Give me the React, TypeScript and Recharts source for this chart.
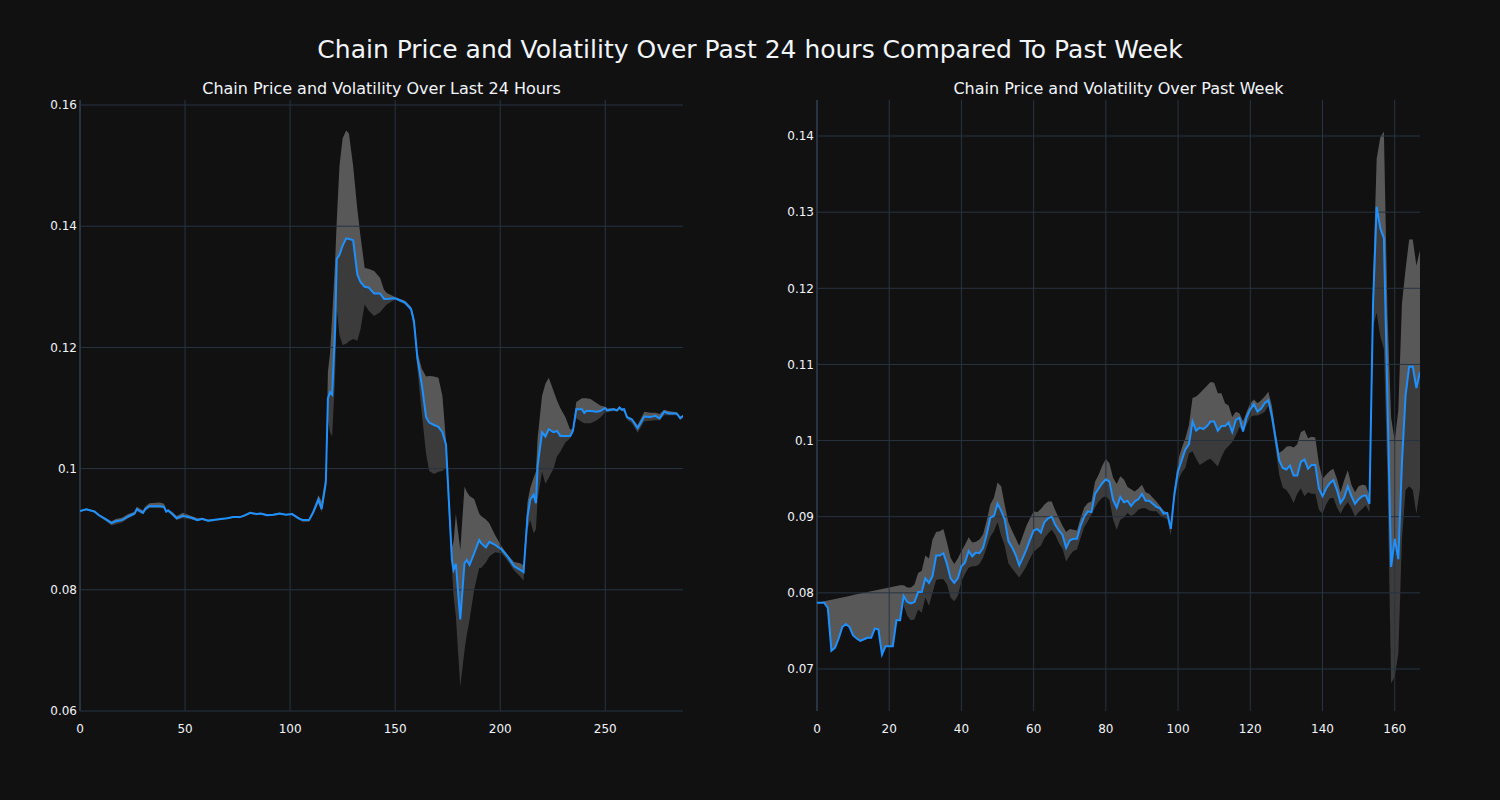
import React from "react";
import { ComposedChart, Area, Line, XAxis, YAxis, ReferenceLine } from "recharts";

// ---- Last 24 hours (5‑minute steps) ----
const dayX = [0,3,7,9,12,15,17,20,23,26,27,29,30,31,33,38,40,41,42,44,46,49,53,56,58,61,65,70,73,76,78,81,84,86,89,92,95,98,101,104,106,109,111,113.5,115,117,118,119,120,121.4,122.2,123.5,125,126.7,128,130,132,133.5,135.5,137.3,140,142.8,144.7,146,150,154.7,157.6,159,160.6,162.7,164.7,166.2,168.5,170.6,172.5,174.2,177,177.8,178.9,181,183,184.1,185.4,187.6,190,190.9,193.2,194.8,197.6,200.8,203.5,206.6,209.5,211.1,213,214.3,215.9,217,217.8,219.9,221.5,223.1,225.4,227,228.6,231,233.3,234.6,236.2,238.9,240,241,243,246,247.6,250,250.8,254,255.6,256.8,257.9,259,260.3,262.7,265.4,268.6,271.4,273.8,275.9,278,280.2,284,285.7,287];
const dayPrice = [.0930,.0933,.0929,.0923,.0917,.0910,.0913,.0915,.0921,.0926,.0933,.0929,.0927,.0933,.0938,.0938,.0937,.0929,.0931,.0925,.0918,.0922,.0919,.0915,.0917,.0914,.0916,.0918,.0920,.0920,.0922,.0927,.0925,.0926,.0923,.0924,.0926,.0924,.0925,.0918,.0915,.0915,.0928,.0949,.0933,.0977,.1116,.1126,.1122,.1227,.1346,.1353,.1368,.1380,.1379,.1377,.1320,.1308,.1300,.1299,.1289,.1289,.1280,.1280,.1281,.1274,.1263,.1242,.1182,.1138,.1085,.1076,.1072,.1069,.1060,.1040,.0850,.0833,.0843,.0751,.0844,.0849,.0841,.0860,.0882,.0877,.0870,.0879,.0874,.0866,.0855,.0839,.0833,.0829,.0921,.0949,.0957,.0943,.1004,.1060,.1053,.1065,.1060,.1062,.1054,.1054,.1054,.1062,.1098,.1098,.1092,.1095,.1095,.1094,.1095,.1100,.1096,.1098,.1096,.1101,.1097,.1098,.1085,.1081,.1067,.1086,.1085,.1087,.1083,.1094,.1091,.1091,.1083,.1087];
const dayUpper = [.0931,.0934,.0931,.0925,.0919,.0913,.0917,.0919,.0925,.0929,.0937,.0933,.0931,.0937,.0943,.0944,.0942,.0932,.0933,.0928,.0922,.0927,.0922,.0918,.0919,.0916,.0917,.0919,.0922,.0921,.0924,.0929,.0926,.0927,.0925,.0925,.0927,.0925,.0926,.0920,.0917,.0917,.0932,.0956,.0946,.0990,.1160,.1190,.1250,.1340,.1409,.1500,.1545,.1558,.1553,.1500,.1428,.1384,.1331,.1330,.1326,.1315,.1295,.1290,.1283,.1277,.1267,.1250,.1192,.1165,.1152,.1153,.1152,.1150,.1120,.1045,.0870,.0880,.0925,.0866,.0970,.0962,.0955,.0950,.0926,.0922,.0916,.0910,.0890,.0871,.0858,.0846,.0844,.0840,.0945,.0968,.0985,.0995,.1050,.1120,.1140,.1150,.1128,.1113,.1100,.1085,.1064,.1066,.1110,.1116,.1116,.1116,.1115,.1108,.1104,.1102,.1099,.1100,.1098,.1102,.1099,.1100,.1087,.1083,.1072,.1094,.1092,.1092,.1090,.1097,.1095,.1093,.1086,.1089];
const dayLower = [.0929,.0931,.0927,.0921,.0914,.0906,.0908,.0911,.0918,.0923,.0930,.0926,.0925,.0930,.0935,.0935,.0934,.0927,.0928,.0922,.0915,.0918,.0916,.0913,.0915,.0912,.0914,.0917,.0919,.0918,.0921,.0925,.0923,.0924,.0922,.0922,.0924,.0923,.0923,.0916,.0912,.0912,.0924,.0943,.0928,.0968,.1080,.1060,.1053,.1150,.1264,.1220,.1204,.1206,.1210,.1214,.1211,.1230,.1271,.1261,.1252,.1258,.1266,.1271,.1279,.1271,.1260,.1225,.1165,.1090,.1025,.0996,.0991,.0995,.0996,.1001,.0835,.0790,.0756,.0640,.0700,.0726,.0750,.0800,.0836,.0836,.0845,.0855,.0862,.0860,.0848,.0832,.0822,.0815,.0900,.0915,.0893,.0900,.0949,.0995,.0975,.0985,.1000,.1020,.1028,.1043,.1050,.1058,.1083,.1077,.1075,.1075,.1075,.1080,.1084,.1093,.1093,.1095,.1094,.1097,.1095,.1094,.1081,.1075,.1059,.1078,.1079,.1080,.1080,.1088,.1088,.1088,.1081,.1084];
const dayXTicks = [0, 50, 100, 150, 200, 250];
const dayYTicks = [0.06, 0.08, 0.1, 0.12, 0.14, 0.16];

// ---- Past week (hourly steps) ----
const weekPrice = [
  .0787,.0787,.0787,.0780,.0724,.0728,.0740,.0755,.0759,.0755,
  .0744,.0740,.0737,.0739,.0741,.0741,.0753,.0752,.0719,.0730,
  .0730,.0730,.0764,.0764,.0796,.0788,.0786,.0788,.0801,.0801,
  .0819,.0813,.0822,.0849,.0849,.0852,.0838,.0819,.0813,.0819,
  .0835,.0840,.0855,.0848,.0853,.0852,.0859,.0877,.0899,.0901,
  .0917,.0908,.0896,.0868,.0860,.0850,.0836,.0846,.0857,.0870,
  .0882,.0884,.0879,.0893,.0898,.0900,.0889,.0882,.0876,.0859,
  .0869,.0871,.0871,.0888,.0900,.0907,.0906,.0930,.0937,.0944,
  .0949,.0946,.0922,.0912,.0926,.0919,.0921,.0914,.0920,.0923,
  .0930,.0921,.0921,.0917,.0913,.0911,.0904,.0905,.0884,.0931,
  .0960,.0974,.0988,.0995,.1025,.1013,.1017,.1015,.1019,.1025,
  .1025,.1013,.1019,.1019,.1024,.1011,.1027,.1030,.1012,.1031,
  .1041,.1048,.1038,.1042,.1049,.1053,.1032,.1003,.0974,.0964,
  .0962,.0967,.0954,.0954,.0972,.0975,.0963,.0968,.0968,.0937,
  .0927,.0937,.0944,.0948,.0935,.0918,.0925,.0940,.0927,.0917,
  .0923,.0927,.0928,.0917,.1180,.1307,.1279,.1266,.1050,.0834,
  .0871,.0844,.0971,.1059,.1097,.1097,.1069,.1090,
];
const weekUpper = [
  .0787,.0788,.0789,.0790,.0791,.0792,.0793,.0794,.0795,.0796,
  .0797,.0798,.0799,.0800,.0801,.0802,.0803,.0804,.0805,.0806,
  .0807,.0808,.0809,.0810,.0810,.0807,.0807,.0811,.0826,.0829,
  .0849,.0845,.0870,.0880,.0881,.0884,.0866,.0846,.0838,.0845,
  .0855,.0863,.0873,.0866,.0867,.0870,.0877,.0895,.0916,.0925,
  .0945,.0940,.0915,.0893,.0882,.0872,.0862,.0875,.0888,.0898,
  .0907,.0906,.0910,.0916,.0920,.0920,.0908,.0898,.0888,.0880,
  .0884,.0883,.0882,.0898,.0912,.0918,.0920,.0946,.0955,.0967,
  .0976,.0970,.0951,.0943,.0953,.0949,.0939,.0936,.0933,.0937,
  .0942,.0932,.0930,.0925,.0920,.0914,.0908,.0905,.0884,.0937,
  .0974,.0990,.1003,.1020,.1056,.1058,.1062,.1067,.1072,.1077,
  .1076,.1062,.1062,.1049,.1046,.1031,.1038,.1036,.1025,.1038,
  .1049,.1054,.1049,.1053,.1058,.1064,.1045,.1010,.0984,.0987,
  .0992,.0993,.0991,.0995,.1011,.1014,.1003,.1005,.1004,.0970,
  .0950,.0955,.0960,.0963,.0950,.0932,.0948,.0961,.0942,.0932,
  .0940,.0942,.0941,.0928,.1210,.1370,.1398,.1406,.1165,.1030,
  .1000,.1040,.1180,.1225,.1264,.1264,.1230,.1250,
];
const weekLower: (number | null)[] = [
  null,null,null,null,null,null,null,null,null,null,
  null,null,null,null,null,null,null,null,null,null,
  null,null,null,null,.0783,.0770,.0764,.0765,.0778,.0774,
  .0794,.0783,.0800,.0817,.0818,.0818,.0811,.0794,.0789,.0796,
  .0815,.0825,.0833,.0835,.0835,.0838,.0846,.0860,.0874,.0881,
  .0893,.0875,.0862,.0839,.0832,.0826,.0820,.0827,.0835,.0845,
  .0854,.0858,.0862,.0872,.0878,.0883,.0876,.0865,.0858,.0841,
  .0849,.0855,.0857,.0872,.0886,.0894,.0903,.0912,.0920,.0925,
  .0927,.0922,.0896,.0883,.0896,.0899,.0905,.0901,.0904,.0909,
  .0911,.0911,.0908,.0907,.0907,.0902,.0899,.0897,.0875,.0922,
  .0947,.0958,.0964,.0983,.0986,.0976,.0968,.0971,.0974,.0976,
  .0971,.0966,.0978,.0988,.0993,.0998,.1007,.1018,.1012,.1021,
  .1031,.1033,.1033,.1035,.1038,.1046,.1022,.0990,.0955,.0938,
  .0935,.0928,.0918,.0930,.0937,.0927,.0932,.0930,.0930,.0909,
  .0904,.0916,.0924,.0925,.0912,.0904,.0913,.0919,.0911,.0900,
  .0906,.0910,.0915,.0906,.1150,.1168,.1137,.1120,.0950,.0681,
  .0690,.0720,.0870,.0935,.0940,.0935,.0904,.0937,
];
const weekXTicks = [0, 20, 40, 60, 80, 100, 120, 140, 160];
const weekYTicks = [0.07, 0.08, 0.09, 0.1, 0.11, 0.12, 0.13, 0.14];

type Row = { x: number; price: number; upper: number; lower: number | null };

const dayData: Row[] = dayX.map((x, i) => ({ x, price: dayPrice[i], upper: dayUpper[i], lower: dayLower[i] }));
const weekData: Row[] = weekPrice.map((p, i) => ({ x: i, price: p, upper: weekUpper[i], lower: weekLower[i] }));

const BG = "#111111";
const GRID = "#283442";
const TEXT = "#f2f5fa";
const LINE = "#1E90FF";
const LIGHT = "#585858";
const DARK = "#3b3b3b";
const FONT = "'DejaVu Sans', sans-serif";

const fmt = (v: number) => String(parseFloat(v.toFixed(2)));

function Panel(props: {
  data: Row[];
  xDomain: [number, number];
  xTicks: number[];
  yDomain: [number, number];
  yTicks: number[];
  left: number;
  title: string;
}) {
  const { data, xDomain, xTicks, yDomain, yTicks, left, title } = props;
  const tick = { fill: TEXT, fontSize: 12, fontFamily: FONT };
  return (
    <>
      <div
        style={{
          position: "absolute",
          left: left + 60,
          width: 603,
          top: 80,
          height: 18,
          lineHeight: "18px",
          textAlign: "center",
          color: TEXT,
          fontSize: 16,
          fontFamily: FONT,
          whiteSpace: "nowrap",
        }}
      >
        {title}
      </div>
      <div style={{ position: "absolute", left, top: 0 }}>
        <ComposedChart width={680} height={760} data={data} margin={{ top: 100, right: 17, bottom: 19, left: 0 }}>
          <XAxis
            type="number"
            dataKey="x"
            domain={xDomain}
            ticks={xTicks}
            allowDataOverflow
            axisLine={false}
            tickLine={false}
            tickSize={0}
            tickMargin={13}
            height={30}
            tick={tick}
            interval={0}
          />
          <YAxis
            type="number"
            domain={yDomain}
            ticks={yTicks}
            allowDataOverflow
            axisLine={false}
            tickLine={false}
            tickSize={0}
            tickMargin={3}
            width={60}
            tick={tick}
            tickFormatter={fmt}
            interval={0}
          />
          {yTicks.map((v) => (
            <ReferenceLine key={"h" + v} y={v} stroke={GRID} strokeWidth={1} />
          ))}
          {xTicks.map((v) => (
            <ReferenceLine key={"v" + v} x={v} stroke={GRID} strokeWidth={v === 0 ? 2 : 1} />
          ))}
          <Area
            type="linear"
            dataKey={(d: Row) => (d.lower == null ? null : [d.lower, d.price])}
            stroke="none"
            fill={DARK}
            fillOpacity={1}
            isAnimationActive={false}
            dot={false}
            activeDot={false}
          />
          <Area
            type="linear"
            dataKey={(d: Row) => [d.price, d.upper]}
            stroke="none"
            fill={LIGHT}
            fillOpacity={1}
            isAnimationActive={false}
            dot={false}
            activeDot={false}
          />
          <Line
            type="linear"
            dataKey="price"
            stroke={LINE}
            strokeWidth={2}
            dot={false}
            activeDot={false}
            isAnimationActive={false}
          />
        </ComposedChart>
      </div>
    </>
  );
}

export default function App() {
  return (
    <div
      style={{
        position: "absolute",
        left: 0,
        top: 0,
        width: 1500,
        height: 800,
        background: BG,
        overflow: "hidden",
      }}
    >
      <div
        style={{
          position: "absolute",
          left: 0,
          width: 1500,
          top: 35,
          height: 30,
          lineHeight: "30px",
          textAlign: "center",
          color: TEXT,
          fontSize: 25,
          fontFamily: FONT,
          whiteSpace: "nowrap",
        }}
      >
        Chain Price and Volatility Over Past 24 hours Compared To Past Week
      </div>
      <Panel
        data={dayData}
        xDomain={[0, 287]}
        xTicks={dayXTicks}
        yDomain={[0.06, 0.16083]}
        yTicks={dayYTicks}
        left={20}
        title="Chain Price and Volatility Over Last 24 Hours"
      />
      <Panel
        data={weekData}
        xDomain={[0, 167]}
        xTicks={weekXTicks}
        yDomain={[0.06448, 0.14473]}
        yTicks={weekYTicks}
        left={757}
        title="Chain Price and Volatility Over Past Week"
      />
    </div>
  );
}
